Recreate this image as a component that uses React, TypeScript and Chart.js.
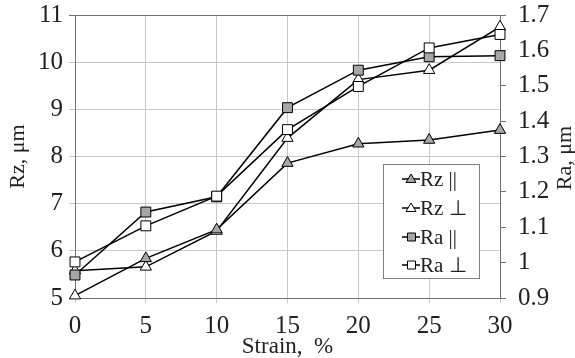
import React, { useEffect, useRef } from 'react';
import { Chart, registerables } from 'chart.js';

Chart.register(...registerables);

const strain = [0, 5, 10, 15, 20, 25, 30];
const rzParallel = [5.05, 5.84, 6.45, 7.86, 8.27, 8.35, 8.56];
const rzPerp = [5.58, 5.66, 6.42, 8.39, 9.63, 9.83, 10.75];
const raParallel = [0.965, 1.143, 1.186, 1.438, 1.544, 1.582, 1.585];
const raPerp = [1.002, 1.104, 1.188, 1.376, 1.498, 1.607, 1.645];
const rzTicks = ['5', '6', '7', '8', '9', '10', '11'];
const raTicks = ['0.9', '1', '1.1', '1.2', '1.3', '1.4', '1.5', '1.6', '1.7'];
const xTicks = ['0', '5', '10', '15', '20', '25', '30'];
const legendLabels = ['Rz ||', 'Rz \u22a5', 'Ra ||', 'Ra \u22a5'];

const FONT = '"Liberation Serif", "Times New Roman", serif';
const GRAY = '#a6a6a6';

const toPts = (ys: number[]) => strain.map((x, i) => ({ x, y: ys[i] }));

const extrasPlugin = {
  id: 'extras',
  afterDraw(chart: any) {
    const ctx = chart.ctx as CanvasRenderingContext2D;
    ctx.save();
    const bx = 383.5, by = 164.5, bw = 96, bh = 114;
    ctx.fillStyle = '#fff';
    ctx.fillRect(bx, by, bw, bh);
    ctx.strokeStyle = '#808080';
    ctx.lineWidth = 1;
    ctx.strokeRect(bx, by, bw, bh);
    const rows = [179, 208, 237, 265];
    const styles = [
      { shape: 'triangle', fill: GRAY },
      { shape: 'triangle', fill: '#fff' },
      { shape: 'rect', fill: GRAY },
      { shape: 'rect', fill: '#fff' },
    ];
    rows.forEach((y, i) => {
      ctx.strokeStyle = '#000';
      ctx.lineWidth = 1.5;
      ctx.beginPath();
      ctx.moveTo(402, y);
      ctx.lineTo(420, y);
      ctx.stroke();
      ctx.lineWidth = 1;
      ctx.fillStyle = styles[i].fill;
      ctx.beginPath();
      if (styles[i].shape === 'triangle') {
        ctx.moveTo(411, y - 5);
        ctx.lineTo(416, y + 3.5);
        ctx.lineTo(406, y + 3.5);
        ctx.closePath();
      } else {
        ctx.rect(407.5, y - 4, 8, 8);
      }
      ctx.fill();
      ctx.stroke();
      ctx.fillStyle = '#222';
      ctx.font = `21px ${FONT}`;
      ctx.textAlign = 'left';
      ctx.textBaseline = 'middle';
      ctx.fillText(legendLabels[i], 420, y + 1);
    });
    ctx.translate(565, 158);
    ctx.rotate(-Math.PI / 2);
    ctx.fillStyle = '#222';
    ctx.font = `22px ${FONT}`;
    ctx.textAlign = 'center';
    ctx.textBaseline = 'middle';
    ctx.fillText('Ra, \u03bcm', 0, 0);
    ctx.restore();
  },
};

export default function App() {
  const ref = useRef<HTMLCanvasElement | null>(null);
  useEffect(() => {
    document.body.style.margin = '0';
    const canvas = ref.current!;
    const gridColor = '#c8c8c8';
    const borderColor = '#707070';
    const tickFont = { family: FONT, size: 25 };
    const common = {
      borderColor: '#000',
      borderWidth: 1.5,
      pointBorderColor: '#000',
      pointBorderWidth: 1,
      clip: false,
    };
    const fitY = (s: any) => {
      s.width = 75;
      s.paddingTop = 0;
      s.paddingBottom = 0;
    };
    const chart = new Chart(canvas, {
      type: 'line',
      data: {
        datasets: [
          {
            ...common,
            label: legendLabels[0],
            data: toPts(rzParallel),
            yAxisID: 'y',
            pointStyle: 'triangle',
            pointRadius: 6.5,
            pointBackgroundColor: rzParallel.map((_, i) => (i === 0 ? '#fff' : GRAY)),
            order: 2,
          },
          {
            ...common,
            label: legendLabels[1],
            data: toPts(rzPerp),
            yAxisID: 'y',
            pointStyle: 'triangle',
            pointRadius: 6.5,
            pointBackgroundColor: '#fff',
            order: 3,
          },
          {
            ...common,
            label: legendLabels[2],
            data: toPts(raParallel),
            yAxisID: 'y1',
            pointStyle: 'rect',
            pointRadius: 7,
            pointBackgroundColor: GRAY,
            order: 1,
          },
          {
            ...common,
            label: legendLabels[3],
            data: toPts(raPerp),
            yAxisID: 'y1',
            pointStyle: 'rect',
            pointRadius: 7,
            pointBackgroundColor: '#fff',
            order: 0,
          },
        ],
      },
      options: {
        animation: false,
        responsive: false,
        maintainAspectRatio: false,
        layout: { padding: { top: 15, left: 0, right: 0, bottom: 0 } },
        plugins: {
          legend: { display: false },
          tooltip: { enabled: false },
        },
        scales: {
          x: {
            type: 'linear',
            min: 0,
            max: 30,
            afterFit: (s: any) => { s.height = 60; },
            afterBuildTicks: (s: any) => { s.ticks = xTicks.map((t) => ({ value: Number(t) })); },
            ticks: {
              font: tickFont,
              color: '#222',
              padding: 8,
              maxRotation: 0,
              callback: (v: any) => xTicks.find((t) => Number(t) === v) ?? '',
            },
            grid: { color: gridColor, tickLength: 5, lineWidth: 1 },
            border: { color: borderColor },
            title: {
              display: true,
              text: 'Strain,  %',
              font: { family: FONT, size: 23, lineHeight: 1 },
              color: '#222',
              padding: { top: 0, bottom: 0 },
            },
          },
          y: {
            type: 'linear',
            position: 'left',
            min: 5,
            max: 11,
            afterFit: fitY,
            afterBuildTicks: (s: any) => { s.ticks = rzTicks.map((t) => ({ value: Number(t) })); },
            ticks: {
              font: tickFont,
              color: '#222',
              padding: 6,
              callback: (v: any) => rzTicks.find((t) => Number(t) === v) ?? '',
            },
            grid: {
              color: (c: any) => (c.tick && c.tick.value === 11 ? borderColor : gridColor),
              tickLength: 6,
              lineWidth: 1,
            },
            border: { color: borderColor },
            title: {
              display: true,
              text: 'Rz, \u03bcm',
              font: { family: FONT, size: 22 },
              color: '#222',
              padding: { top: 5, bottom: 0 },
            },
          },
          y1: {
            type: 'linear',
            position: 'right',
            min: 0.9,
            max: 1.7,
            afterFit: fitY,
            afterBuildTicks: (s: any) => { s.ticks = raTicks.map((t) => ({ value: Number(t) })); },
            ticks: {
              font: tickFont,
              color: '#222',
              padding: 12,
              callback: (v: any) => raTicks.find((t) => Math.abs(Number(t) - v) < 1e-6) ?? '',
            },
            grid: { drawOnChartArea: false, color: borderColor, tickLength: 6 },
            border: { color: borderColor },
          },
        },
      },
      plugins: [extrasPlugin],
    } as any);
    return () => chart.destroy();
  }, []);
  return <canvas ref={ref} width={575} height={358} style={{ display: 'block' }} />;
}
